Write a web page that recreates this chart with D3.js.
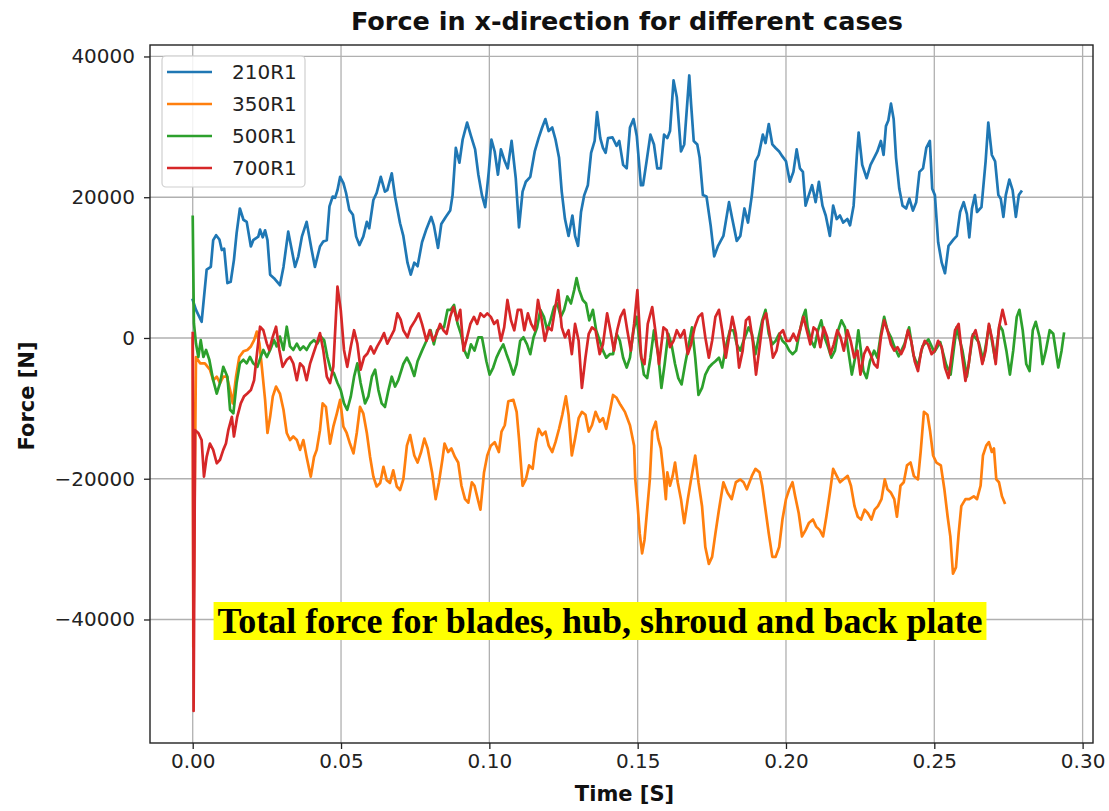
<!DOCTYPE html>
<html>
<head>
<meta charset="utf-8">
<script src="https://cdn.jsdelivr.net/npm/d3@7"></script>
<style>
  html, body { margin: 0; padding: 0; background: #ffffff; }
  svg { display: block; font-family: "DejaVu Sans", sans-serif; }
</style>
</head>
<body>
<svg id="chart" width="1109" height="811"></svg>
<script>
// ---- data -------------------------------------------------------------
const seriesNames = ["210R1", "350R1", "500R1", "700R1"];
const timeTicks = [0.00, 0.05, 0.10, 0.15, 0.20, 0.25, 0.30];
const forceTicks = [-40000, -20000, 0, 20000, 40000];

// [time (s), force (N)]
const force210R1 = [[0.0000,5400],[0.0011,4000],[0.0030,2300],[0.0047,9700],[0.0061,10100],[0.0069,13900],[0.0079,14600],[0.0090,14000],[0.0098,12500],[0.0106,12700],[0.0117,7800],[0.0128,8000],[0.0139,11100],[0.0148,14900],[0.0159,18400],[0.0171,16800],[0.0182,16500],[0.0196,13000],[0.0204,13900],[0.0221,14400],[0.0227,15400],[0.0236,14300],[0.0244,15300],[0.0252,13900],[0.0261,9000],[0.0274,8500],[0.0294,7500],[0.0306,10100],[0.0322,15100],[0.0334,12500],[0.0345,10100],[0.0356,11600],[0.0368,14400],[0.0384,16500],[0.0401,12500],[0.0412,10100],[0.0429,13000],[0.0440,13700],[0.0452,13900],[0.0461,18700],[0.0472,20100],[0.0480,19900],[0.0488,21000],[0.0497,22900],[0.0508,22000],[0.0517,20600],[0.0528,18200],[0.0540,17500],[0.0551,14400],[0.0562,13200],[0.0575,14400],[0.0587,16500],[0.0595,15600],[0.0609,19600],[0.0620,20600],[0.0634,22900],[0.0648,20800],[0.0656,21000],[0.0671,23400],[0.0682,20100],[0.0699,16300],[0.0710,14500],[0.0724,10700],[0.0735,9000],[0.0747,10700],[0.0758,10200],[0.0773,13600],[0.0788,15500],[0.0804,17200],[0.0813,16000],[0.0827,12800],[0.0838,16200],[0.0853,17200],[0.0868,18100],[0.0876,20300],[0.0887,27000],[0.0899,24900],[0.0910,28200],[0.0925,30600],[0.0938,28700],[0.0952,26800],[0.0963,23200],[0.0975,20300],[0.0986,18600],[0.0998,23600],[0.1007,28200],[0.1018,26500],[0.1029,23200],[0.1039,26800],[0.1052,25100],[0.1062,24100],[0.1075,28000],[0.1089,22700],[0.1100,15700],[0.1112,20800],[0.1123,22200],[0.1138,22900],[0.1153,26500],[0.1166,28400],[0.1178,29900],[0.1189,31100],[0.1200,29400],[0.1212,29900],[0.1223,28200],[0.1235,25600],[0.1244,20800],[0.1255,16900],[0.1267,14500],[0.1280,17400],[0.1289,14500],[0.1299,13100],[0.1309,17900],[0.1320,20300],[0.1332,21700],[0.1343,26300],[0.1355,28000],[0.1363,32100],[0.1374,28400],[0.1383,27000],[0.1392,26300],[0.1400,28400],[0.1415,28500],[0.1429,27300],[0.1438,28000],[0.1451,24600],[0.1463,24100],[0.1474,29900],[0.1486,31100],[0.1497,28700],[0.1511,21700],[0.1518,21700],[0.1530,25100],[0.1543,28900],[0.1555,27500],[0.1566,24100],[0.1578,24100],[0.1589,28900],[0.1600,28400],[0.1609,29400],[0.1621,36600],[0.1632,34200],[0.1646,26500],[0.1657,27500],[0.1674,37300],[0.1680,33300],[0.1689,28000],[0.1701,27500],[0.1709,25600],[0.1720,20300],[0.1732,20100],[0.1746,16000],[0.1758,11600],[0.1771,13100],[0.1789,14500],[0.1808,19300],[0.1819,16900],[0.1834,13800],[0.1846,14500],[0.1860,18400],[0.1872,16400],[0.1885,20300],[0.1897,25100],[0.1908,26000],[0.1922,28900],[0.1931,27700],[0.1942,30400],[0.1954,27500],[0.1965,27000],[0.1977,26500],[0.1988,25800],[0.2000,25100],[0.2013,22200],[0.2025,23600],[0.2036,26800],[0.2047,24100],[0.2057,23600],[0.2066,18800],[0.2077,20300],[0.2088,21700],[0.2100,19300],[0.2111,22200],[0.2123,18800],[0.2134,17400],[0.2148,14500],[0.2159,18800],[0.2171,16900],[0.2182,17400],[0.2193,16400],[0.2207,16900],[0.2216,16000],[0.2228,18800],[0.2239,26000],[0.2245,29200],[0.2257,24600],[0.2272,22700],[0.2285,24600],[0.2297,25600],[0.2308,26500],[0.2320,28000],[0.2329,26000],[0.2337,30100],[0.2345,30900],[0.2354,33300],[0.2363,31100],[0.2371,25600],[0.2382,21200],[0.2393,18800],[0.2405,18400],[0.2416,19800],[0.2428,18100],[0.2439,19300],[0.2450,23600],[0.2462,24100],[0.2473,27000],[0.2485,28000],[0.2493,21200],[0.2502,20300],[0.2513,13600],[0.2525,10700],[0.2536,9200],[0.2548,13100],[0.2565,14000],[0.2576,14500],[0.2587,17900],[0.2599,19300],[0.2610,17600],[0.2618,14300],[0.2627,18400],[0.2637,20300],[0.2644,17900],[0.2659,18600],[0.2673,25100],[0.2682,30600],[0.2694,26000],[0.2705,25100],[0.2716,20300],[0.2724,19800],[0.2733,17200],[0.2741,20300],[0.2753,22500],[0.2764,21000],[0.2775,17200],[0.2785,20300],[0.2793,20800]];

const force350R1 = [[0.0000,0],[0.0002,-43900],[0.0011,-2700],[0.0025,-3600],[0.0041,-3600],[0.0058,-4500],[0.0069,-6000],[0.0081,-5500],[0.0092,-6400],[0.0103,-5500],[0.0115,-5500],[0.0126,-7400],[0.0135,-9300],[0.0146,-5500],[0.0157,-2700],[0.0171,-1900],[0.0184,-1700],[0.0196,-1200],[0.0207,-300],[0.0216,900],[0.0225,-800],[0.0233,-4100],[0.0244,-8800],[0.0252,-13500],[0.0261,-11200],[0.0270,-8300],[0.0281,-6900],[0.0294,-7900],[0.0306,-10200],[0.0317,-13500],[0.0328,-14500],[0.0339,-14000],[0.0351,-14500],[0.0362,-15900],[0.0373,-14500],[0.0384,-16900],[0.0398,-19700],[0.0409,-16900],[0.0418,-15900],[0.0429,-13100],[0.0438,-9300],[0.0449,-9800],[0.0463,-15000],[0.0474,-12600],[0.0486,-10700],[0.0497,-8800],[0.0508,-12600],[0.0519,-13500],[0.0530,-15000],[0.0542,-16400],[0.0553,-13500],[0.0564,-9800],[0.0575,-10700],[0.0587,-13500],[0.0598,-16900],[0.0609,-19700],[0.0620,-21100],[0.0632,-20600],[0.0643,-18300],[0.0654,-20200],[0.0665,-20600],[0.0676,-18800],[0.0688,-21100],[0.0699,-21600],[0.0710,-20100],[0.0722,-15300],[0.0733,-13800],[0.0747,-16700],[0.0758,-17700],[0.0770,-16200],[0.0781,-14300],[0.0792,-15700],[0.0807,-19100],[0.0819,-22900],[0.0830,-20500],[0.0842,-17200],[0.0849,-15000],[0.0861,-16200],[0.0872,-15700],[0.0884,-16900],[0.0895,-17700],[0.0906,-21000],[0.0918,-22900],[0.0929,-23400],[0.0941,-20500],[0.0950,-21000],[0.0961,-22900],[0.0970,-24400],[0.0982,-19100],[0.0993,-16700],[0.1005,-15300],[0.1018,-14800],[0.1032,-16200],[0.1041,-13300],[0.1052,-12400],[0.1064,-9000],[0.1081,-8800],[0.1092,-10500],[0.1100,-14300],[0.1112,-21000],[0.1123,-20100],[0.1134,-18100],[0.1146,-18600],[0.1157,-14800],[0.1166,-12900],[0.1178,-13800],[0.1189,-13300],[0.1200,-15300],[0.1212,-16200],[0.1223,-14800],[0.1235,-12900],[0.1246,-10900],[0.1258,-8300],[0.1267,-10900],[0.1278,-16700],[0.1289,-14300],[0.1301,-11400],[0.1312,-10500],[0.1324,-10900],[0.1335,-13300],[0.1346,-12400],[0.1358,-10500],[0.1372,-11900],[0.1383,-11400],[0.1394,-12900],[0.1406,-10500],[0.1417,-8100],[0.1429,-8500],[0.1442,-9500],[0.1457,-10500],[0.1474,-12400],[0.1488,-15300],[0.1492,-20100],[0.1500,-23900],[0.1507,-27800],[0.1515,-30600],[0.1523,-28700],[0.1532,-24400],[0.1541,-20100],[0.1549,-13300],[0.1561,-11900],[0.1569,-14300],[0.1578,-15700],[0.1587,-19100],[0.1595,-22900],[0.1600,-19100],[0.1609,-21000],[0.1618,-19600],[0.1626,-17700],[0.1635,-20500],[0.1646,-22900],[0.1657,-26300],[0.1669,-22900],[0.1680,-20100],[0.1694,-16700],[0.1705,-20500],[0.1717,-23900],[0.1728,-29700],[0.1740,-32100],[0.1751,-31100],[0.1762,-27800],[0.1774,-24400],[0.1789,-20500],[0.1803,-22000],[0.1817,-22900],[0.1831,-20500],[0.1846,-20100],[0.1857,-20500],[0.1868,-21500],[0.1885,-19600],[0.1897,-18600],[0.1911,-19100],[0.1920,-21000],[0.1931,-24400],[0.1942,-27800],[0.1954,-31100],[0.1965,-31100],[0.1977,-29700],[0.1988,-25800],[0.2000,-22900],[0.2011,-21500],[0.2022,-20500],[0.2031,-22500],[0.2043,-24900],[0.2054,-28200],[0.2066,-27300],[0.2077,-26300],[0.2091,-25800],[0.2102,-26800],[0.2114,-27300],[0.2125,-28200],[0.2136,-25400],[0.2148,-22000],[0.2159,-18600],[0.2171,-19600],[0.2182,-20500],[0.2193,-20100],[0.2208,-19600],[0.2219,-21000],[0.2231,-23900],[0.2242,-25400],[0.2253,-25800],[0.2265,-24400],[0.2276,-24900],[0.2288,-25800],[0.2299,-24400],[0.2310,-23900],[0.2322,-22900],[0.2333,-20100],[0.2342,-21500],[0.2354,-22000],[0.2365,-22900],[0.2374,-25400],[0.2386,-21000],[0.2397,-20500],[0.2408,-18100],[0.2420,-17700],[0.2431,-19600],[0.2445,-20100],[0.2454,-16200],[0.2465,-10500],[0.2477,-10900],[0.2486,-13300],[0.2496,-16700],[0.2507,-17700],[0.2522,-18100],[0.2534,-21500],[0.2545,-25400],[0.2554,-28200],[0.2563,-33500],[0.2573,-32600],[0.2582,-27800],[0.2591,-23900],[0.2605,-22900],[0.2618,-22900],[0.2633,-22500],[0.2644,-22900],[0.2656,-21000],[0.2664,-16700],[0.2675,-15300],[0.2684,-14800],[0.2694,-16200],[0.2701,-15700],[0.2709,-20100],[0.2718,-20500],[0.2728,-22500],[0.2737,-23400]];

const force500R1 = [[0.0000,17200],[0.0004,2100],[0.0011,-800],[0.0019,-2700],[0.0027,-300],[0.0036,-2700],[0.0045,-1700],[0.0056,-3100],[0.0069,-6000],[0.0081,-7900],[0.0092,-6400],[0.0103,-4100],[0.0117,-5500],[0.0126,-10200],[0.0137,-10700],[0.0148,-6400],[0.0159,-3600],[0.0171,-3100],[0.0182,-3600],[0.0193,-2700],[0.0204,-3600],[0.0218,-4100],[0.0229,-2700],[0.0238,-1700],[0.0250,-2700],[0.0261,-1700],[0.0274,-300],[0.0283,-1200],[0.0294,200],[0.0306,-1700],[0.0317,1600],[0.0328,-1200],[0.0339,-1700],[0.0351,-800],[0.0362,-1700],[0.0373,-1200],[0.0384,-1700],[0.0396,-800],[0.0409,-300],[0.0420,-800],[0.0432,200],[0.0443,-300],[0.0454,-2700],[0.0465,-4500],[0.0476,-5000],[0.0488,-6400],[0.0499,-7400],[0.0510,-9300],[0.0521,-10200],[0.0533,-8300],[0.0544,-5500],[0.0555,-3600],[0.0566,-6400],[0.0581,-9300],[0.0592,-8300],[0.0604,-5500],[0.0615,-4500],[0.0626,-7400],[0.0637,-9300],[0.0648,-9800],[0.0660,-7400],[0.0671,-5500],[0.0682,-6900],[0.0693,-6000],[0.0710,-3700],[0.0722,-2800],[0.0733,-3700],[0.0747,-5400],[0.0758,-3300],[0.0773,-1800],[0.0788,-400],[0.0802,1100],[0.0813,-900],[0.0824,1100],[0.0836,1500],[0.0847,1500],[0.0859,4000],[0.0870,4000],[0.0881,4700],[0.0893,2000],[0.0904,600],[0.0916,-1800],[0.0927,-2800],[0.0938,-900],[0.0950,-1800],[0.0963,100],[0.0975,100],[0.0990,-3300],[0.1001,-5200],[0.1013,-4200],[0.1024,-2800],[0.1035,-1800],[0.1047,-900],[0.1058,-2300],[0.1070,-3700],[0.1081,-5200],[0.1092,-3700],[0.1104,-400],[0.1115,100],[0.1127,-900],[0.1138,-2300],[0.1149,100],[0.1161,1500],[0.1172,4000],[0.1184,3000],[0.1195,1100],[0.1206,2500],[0.1218,4400],[0.1229,4900],[0.1241,3000],[0.1252,4000],[0.1263,5900],[0.1275,4900],[0.1286,6800],[0.1294,8500],[0.1303,6800],[0.1315,5400],[0.1326,4900],[0.1337,2500],[0.1349,4000],[0.1360,1100],[0.1372,-400],[0.1383,-1800],[0.1394,-2800],[0.1406,-2300],[0.1417,-2300],[0.1429,600],[0.1440,-400],[0.1451,-2800],[0.1463,-4200],[0.1474,-2800],[0.1486,1100],[0.1497,3000],[0.1509,-1800],[0.1521,-5200],[0.1532,-5700],[0.1543,-2800],[0.1555,1100],[0.1569,-2300],[0.1580,-7100],[0.1591,-3700],[0.1603,600],[0.1614,-900],[0.1626,-3700],[0.1637,-5700],[0.1648,-6600],[0.1660,-3700],[0.1671,-1300],[0.1683,1500],[0.1694,-2800],[0.1705,-8100],[0.1717,-7100],[0.1728,-5200],[0.1740,-4200],[0.1751,-3700],[0.1762,-3300],[0.1774,-2800],[0.1785,-4200],[0.1797,-1300],[0.1811,1100],[0.1823,1100],[0.1834,-900],[0.1846,-1800],[0.1857,-400],[0.1874,1500],[0.1885,600],[0.1897,-2300],[0.1908,100],[0.1920,2500],[0.1931,4000],[0.1942,600],[0.1954,-900],[0.1965,-400],[0.1977,600],[0.1988,-400],[0.2000,-900],[0.2011,-1800],[0.2022,-2300],[0.2034,-1800],[0.2045,600],[0.2057,3000],[0.2066,4000],[0.2073,1500],[0.2085,-400],[0.2096,-1300],[0.2108,1100],[0.2119,2500],[0.2130,100],[0.2142,-1300],[0.2153,-2800],[0.2165,-1800],[0.2176,1100],[0.2187,2500],[0.2199,1500],[0.2210,-1800],[0.2222,-5200],[0.2233,-2800],[0.2244,1100],[0.2261,-4700],[0.2272,-5700],[0.2283,-3300],[0.2297,-1800],[0.2308,-2800],[0.2320,600],[0.2331,3000],[0.2342,1100],[0.2354,100],[0.2365,-1200],[0.2380,-2600],[0.2400,-800],[0.2415,1500],[0.2430,-2500],[0.2445,-4000],[0.2460,-1200],[0.2480,-200],[0.2500,-2000],[0.2520,-600],[0.2540,-3800],[0.2555,-5200],[0.2575,1500],[0.2595,-1800],[0.2610,-5500],[0.2630,500],[0.2650,-600],[0.2665,-3200],[0.2685,1800],[0.2705,-3000],[0.2720,1800],[0.2730,1100],[0.2743,-1800],[0.2755,-5200],[0.2766,-1800],[0.2778,3000],[0.2787,4000],[0.2798,1100],[0.2810,-3700],[0.2821,-4700],[0.2832,1100],[0.2842,2300],[0.2855,100],[0.2865,-3700],[0.2876,-1800],[0.2889,1100],[0.2901,600],[0.2918,-4200],[0.2929,-1800],[0.2937,600]];

const force700R1 = [[0.0000,700],[0.0003,-53000],[0.0008,-13100],[0.0019,-13500],[0.0030,-14500],[0.0038,-19700],[0.0047,-16900],[0.0058,-15000],[0.0069,-15900],[0.0081,-17800],[0.0092,-17300],[0.0103,-15900],[0.0112,-15000],[0.0120,-13100],[0.0132,-11200],[0.0139,-14000],[0.0150,-11200],[0.0162,-9300],[0.0173,-8300],[0.0184,-7900],[0.0196,-7400],[0.0207,-6000],[0.0218,-1700],[0.0227,1600],[0.0238,1100],[0.0250,-800],[0.0258,-1700],[0.0270,200],[0.0281,1600],[0.0292,-1700],[0.0303,-4100],[0.0317,-3100],[0.0328,-2700],[0.0339,-3600],[0.0351,-6000],[0.0362,-3600],[0.0373,-4100],[0.0384,-6000],[0.0396,-3600],[0.0407,-2200],[0.0418,-800],[0.0429,700],[0.0440,-1700],[0.0452,-5500],[0.0463,-6400],[0.0474,-4100],[0.0488,7300],[0.0499,4000],[0.0510,-1700],[0.0521,-4100],[0.0533,-1200],[0.0544,1100],[0.0555,-800],[0.0566,-4500],[0.0578,-2700],[0.0589,-2200],[0.0600,-1200],[0.0611,-2200],[0.0622,-1200],[0.0634,-300],[0.0645,700],[0.0656,-800],[0.0668,200],[0.0679,1100],[0.0690,3500],[0.0701,2600],[0.0710,1100],[0.0724,100],[0.0735,1500],[0.0750,2500],[0.0762,3500],[0.0773,2000],[0.0788,-400],[0.0799,1100],[0.0811,-400],[0.0822,600],[0.0834,2000],[0.0845,1100],[0.0856,600],[0.0868,3000],[0.0879,4400],[0.0891,2500],[0.0902,4000],[0.0913,-1800],[0.0925,100],[0.0936,2000],[0.0948,3000],[0.0959,2000],[0.0970,3500],[0.0982,3000],[0.0993,3500],[0.1005,3000],[0.1016,2000],[0.1027,2500],[0.1039,-400],[0.1050,1500],[0.1061,5400],[0.1073,2500],[0.1084,1100],[0.1096,4000],[0.1107,4000],[0.1118,1100],[0.1130,3500],[0.1141,2000],[0.1153,1100],[0.1164,5400],[0.1175,3000],[0.1187,-400],[0.1198,1500],[0.1210,1100],[0.1221,4000],[0.1232,6800],[0.1244,1500],[0.1255,100],[0.1267,1100],[0.1278,-2300],[0.1289,2000],[0.1301,-400],[0.1312,-7100],[0.1324,-2800],[0.1335,600],[0.1346,1500],[0.1358,1100],[0.1372,-2300],[0.1383,-900],[0.1397,3500],[0.1408,1100],[0.1420,-1800],[0.1431,1100],[0.1442,3000],[0.1454,4000],[0.1465,1100],[0.1477,-1800],[0.1488,2000],[0.1499,6800],[0.1512,-2800],[0.1523,-3700],[0.1534,2000],[0.1549,4400],[0.1561,600],[0.1572,-3700],[0.1587,1500],[0.1598,1100],[0.1609,-1300],[0.1621,-400],[0.1632,1100],[0.1644,100],[0.1657,1100],[0.1669,-2300],[0.1680,-900],[0.1692,1500],[0.1705,3000],[0.1717,3500],[0.1728,100],[0.1740,-2800],[0.1751,-400],[0.1762,3000],[0.1774,4000],[0.1785,1100],[0.1797,-2800],[0.1808,100],[0.1819,3000],[0.1831,600],[0.1842,-4200],[0.1854,-1800],[0.1865,2500],[0.1876,3000],[0.1888,-400],[0.1899,-5200],[0.1911,-1300],[0.1922,2500],[0.1933,3500],[0.1945,600],[0.1956,-2800],[0.1968,-1800],[0.1979,600],[0.1990,1100],[0.2002,-400],[0.2013,-400],[0.2025,600],[0.2036,-400],[0.2047,1100],[0.2059,3000],[0.2070,1100],[0.2082,-900],[0.2093,1500],[0.2104,1100],[0.2116,-1300],[0.2127,1500],[0.2139,100],[0.2150,-2300],[0.2161,-900],[0.2173,1100],[0.2184,100],[0.2195,-1800],[0.2207,1100],[0.2218,-400],[0.2230,-2800],[0.2241,-1800],[0.2251,-5200],[0.2263,-2300],[0.2274,-1300],[0.2285,-2300],[0.2297,-3700],[0.2308,-4200],[0.2320,100],[0.2331,2500],[0.2342,1100],[0.2354,-900],[0.2365,-1800],[0.2376,-1300],[0.2388,-2300],[0.2399,-1300],[0.2411,1100],[0.2422,-400],[0.2434,-3300],[0.2445,-4700],[0.2456,-1800],[0.2468,-400],[0.2479,-900],[0.2491,-2300],[0.2502,-1800],[0.2513,-400],[0.2525,-1300],[0.2536,-4200],[0.2548,-5700],[0.2559,-2300],[0.2570,1100],[0.2582,2000],[0.2593,-2300],[0.2605,-6100],[0.2616,-3700],[0.2627,100],[0.2639,1100],[0.2650,-900],[0.2662,-3700],[0.2673,-1800],[0.2684,2000],[0.2696,-400],[0.2707,-3700],[0.2718,1500],[0.2730,4000],[0.2741,2000]];

const seriesValues = [force210R1, force350R1, force500R1, force700R1];

// ---- styling ------------------------------------------------------------
const palette = ["#1f77b4", "#ff7f0e", "#2ca02c", "#d62728"];
const chartTitle = "Force in x-direction for different cases";
const xLabel = "Time [S]";
const yLabel = "Force [N]";
const noteText = "Total force for blades, hub, shroud and back plate";

const frame = { left: 150, right: 1093, top: 45, bottom: 743 };

const svg = d3.select("#chart");

const x = d3.scaleLinear().domain([-0.0144, 0.3035]).range([frame.left, frame.right]);
const y = d3.scaleLinear().domain([-57550, 41630]).range([frame.bottom, frame.top]);

// grid
const grid = svg.append("g").attr("stroke", "#b0b0b0").attr("stroke-width", 1.3);
grid.selectAll("line.vx").data(timeTicks).join("line")
  .attr("x1", d => x(d)).attr("x2", d => x(d))
  .attr("y1", frame.top).attr("y2", frame.bottom);
grid.selectAll("line.hy").data(forceTicks).join("line")
  .attr("x1", frame.left).attr("x2", frame.right)
  .attr("y1", d => y(d)).attr("y2", d => y(d));

// series
svg.append("clipPath").attr("id", "plotClip").append("rect")
  .attr("x", frame.left).attr("y", frame.top)
  .attr("width", frame.right - frame.left).attr("height", frame.bottom - frame.top);

const line = d3.line().x(d => x(d[0])).y(d => y(d[1]));
svg.append("g").attr("clip-path", "url(#plotClip)")
  .selectAll("path").data(seriesValues).join("path")
  .attr("d", line)
  .attr("fill", "none")
  .attr("stroke", (d, i) => palette[i])
  .attr("stroke-width", 2.7)
  .attr("stroke-linejoin", "round")
  .attr("stroke-linecap", "square");

// axes
const xAxis = svg.append("g").attr("transform", `translate(0,${frame.bottom})`)
  .call(d3.axisBottom(x).tickValues(timeTicks).tickFormat(d3.format(".2f")).tickSize(6).tickPadding(5));
const yAxis = svg.append("g").attr("transform", `translate(${frame.left},0)`)
  .call(d3.axisLeft(y).tickValues(forceTicks).tickFormat(d3.format("d")).tickSize(6).tickPadding(9));
[xAxis, yAxis].forEach(a => {
  a.select(".domain").remove();
  a.selectAll(".tick line").attr("stroke", "#222").attr("stroke-width", 1.3);
  a.selectAll(".tick text").attr("fill", "#222").attr("font-size", 20)
    .attr("font-family", "DejaVu Sans, sans-serif");
});

// frame
svg.append("rect")
  .attr("x", frame.left).attr("y", frame.top)
  .attr("width", frame.right - frame.left).attr("height", frame.bottom - frame.top)
  .attr("fill", "none").attr("stroke", "#222").attr("stroke-width", 1.4);

// titles
svg.append("text").attr("x", 627).attr("y", 30)
  .attr("text-anchor", "middle").attr("font-weight", "bold").attr("font-size", 25.5)
  .attr("fill", "#111").text(chartTitle);
svg.append("text").attr("x", (frame.left + frame.right) / 2 + 3).attr("y", 801)
  .attr("text-anchor", "middle").attr("font-weight", "bold").attr("font-size", 21)
  .attr("fill", "#111").text(xLabel);
svg.append("text").attr("transform", "translate(34,396) rotate(-90)")
  .attr("text-anchor", "middle").attr("font-weight", "bold").attr("font-size", 21)
  .attr("fill", "#111").text(yLabel);

// legend
const legend = svg.append("g");
legend.append("rect").attr("x", 162).attr("y", 56).attr("width", 143).attr("height", 131)
  .attr("rx", 4).attr("fill", "#fff").attr("fill-opacity", 0.85)
  .attr("stroke", "#cfcfcf").attr("stroke-width", 1.2);
const entries = legend.selectAll("g.entry").data(seriesNames).join("g")
  .attr("transform", (d, i) => `translate(0,${72 + i * 32})`);
entries.append("line").attr("x1", 167).attr("x2", 212).attr("y1", 0).attr("y2", 0)
  .attr("stroke", (d, i) => palette[i]).attr("stroke-width", 2.7);
entries.append("text").attr("x", 232).attr("y", 0).attr("dy", "0.36em")
  .attr("font-size", 20).attr("fill", "#222").text(d => d);

// annotation
const note = svg.append("g");
const noteBg = note.append("rect").attr("fill", "#ffff00");
const noteLabel = note.append("text").attr("x", 600).attr("y", 633)
  .attr("text-anchor", "middle")
  .attr("font-family", "'Liberation Serif', 'Times New Roman', serif")
  .attr("font-weight", "bold").attr("font-size", 36).attr("fill", "#000")
  .text(noteText);
const bb = noteLabel.node().getBBox();
noteBg.attr("x", bb.x - 4).attr("y", bb.y + 1).attr("width", bb.width + 8).attr("height", bb.height - 2);
</script>
</body>
</html>
